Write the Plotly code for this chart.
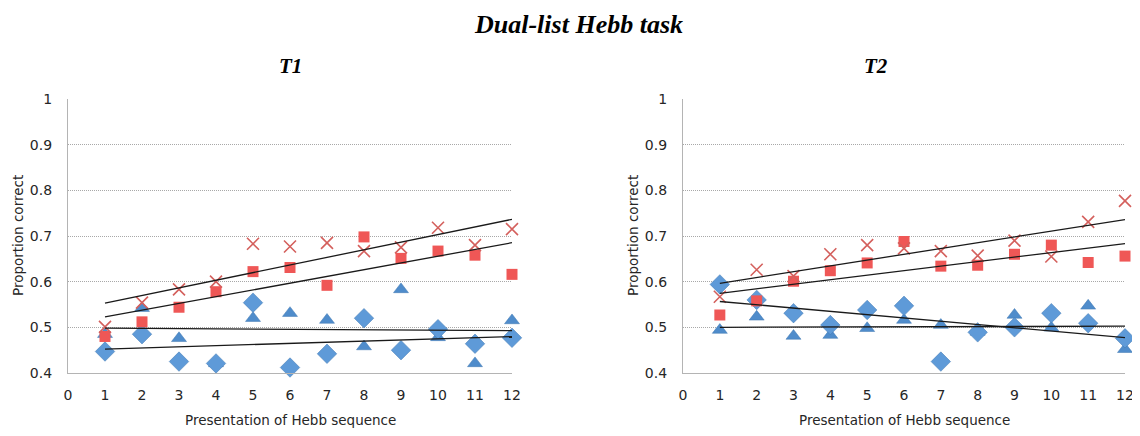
import numpy as np
import plotly.graph_objects as go

presentations = list(range(1, 13))

# T1 (left panel)
t1_cross = [0.501, 0.554, 0.583, 0.600, 0.683, 0.677, 0.685, 0.667, 0.675, 0.718, 0.680, 0.715]
t1_square = [0.480, 0.512, 0.544, 0.578, 0.622, 0.631, 0.592, 0.698, 0.651, 0.667, 0.658, 0.616]
t1_triangle = [0.485, 0.542, 0.476, 0.421, 0.520, 0.531, 0.516, 0.458, 0.583, 0.478, 0.421, 0.515]
t1_diamond = [0.447, 0.485, 0.425, 0.421, 0.554, 0.412, 0.442, 0.520, 0.450, 0.496, 0.464, 0.477]

# T2 (right panel)
t2_cross = [0.567, 0.626, 0.612, 0.660, 0.680, 0.673, 0.667, 0.657, 0.690, 0.655, 0.731, 0.777]
t2_square = [0.527, 0.558, 0.601, 0.624, 0.641, 0.688, 0.634, 0.636, 0.660, 0.680, 0.642, 0.656]
t2_triangle = [0.494, 0.523, 0.481, 0.483, 0.498, 0.516, 0.505, 0.490, 0.527, 0.499, 0.547, 0.452]
t2_diamond = [0.594, 0.560, 0.531, 0.505, 0.538, 0.547, 0.425, 0.489, 0.500, 0.531, 0.509, 0.476]

x_ticks = list(range(0, 13))
y_ticks = [0.4, 0.5, 0.6, 0.7, 0.8, 0.9, 1.0]
y_tick_labels = ["0.4", "0.5", "0.6", "0.7", "0.8", "0.9", "1"]

BLUE_D = "#5E9AD8"
BLUE_T = "#4F8CCB"
RED_S = "#EF5756"
RED_X = "#D4605D"

fig = go.Figure()

def add_panel(xa, ya, cross, square, triangle, diamond):
    common = dict(x=presentations, mode="markers", xaxis=xa, yaxis=ya,
                  showlegend=False, cliponaxis=False, hoverinfo="skip")
    fig.add_trace(go.Scatter(y=triangle, marker=dict(symbol="triangle-up", size=13, color=BLUE_T,
                                                       line=dict(width=0.5, color="#3E76B0")), **common))
    fig.add_trace(go.Scatter(y=diamond, marker=dict(symbol="diamond", size=15, color=BLUE_D,
                                                      line=dict(width=0.5, color="#3E76B0")), **common))
    fig.add_trace(go.Scatter(y=square, marker=dict(symbol="square", size=11, color=RED_S,
                                                     line=dict(width=0)), **common))
    fig.add_trace(go.Scatter(y=cross, marker=dict(symbol="x-thin", size=12, color=RED_X,
                                                    line=dict(width=1.6, color=RED_X)), **common))
    xs = np.array(presentations, dtype=float)
    for series in (cross, square, triangle, diamond):
        k, b = np.polyfit(xs, np.array(series), 1)
        fig.add_trace(go.Scatter(x=[xs[0], xs[-1]], y=[k * xs[0] + b, k * xs[-1] + b], mode="lines",
                                 line=dict(color="#1a1a1a", width=1.3), xaxis=xa, yaxis=ya,
                                 showlegend=False, hoverinfo="skip"))

add_panel("x", "y", t1_cross, t1_square, t1_triangle, t1_diamond)
add_panel("x2", "y2", t2_cross, t2_square, t2_triangle, t2_diamond)

# page has an 8px body margin; figure sized to fill the rest of the window
OFF = 8
W, H = 1140 - OFF, 436 - OFF

def px(x):
    return (x - OFF) / W

def py(y):
    return 1 - (y - OFF) / H

ydom = [py(373), py(99)]
tickfont = dict(family="DejaVu Sans", size=14, color="#262626")

xcommon = dict(range=[0, 12], tickvals=x_ticks, ticktext=[str(v) for v in x_ticks],
               showgrid=False, zeroline=False, showline=True, linecolor="#B4B4B4", linewidth=1.2,
               ticks="outside", ticklen=9, tickcolor="rgba(0,0,0,0)", tickfont=tickfont,
               automargin=False)
ycommon = dict(range=[0.4, 1.0], tickvals=y_ticks, ticktext=y_tick_labels,
               showgrid=True, gridcolor="#A8A8A8", griddash="1px,1px", gridwidth=1,
               zeroline=False, showline=True, linecolor="#B4B4B4", linewidth=1.2,
               ticks="outside", ticklen=12, tickcolor="rgba(0,0,0,0)", tickfont=tickfont, domain=ydom,
               automargin=False)

fig.update_layout(
    width=W, height=H,
    margin=dict(l=0, r=0, t=0, b=0, autoexpand=False),
    paper_bgcolor="white", plot_bgcolor="white",
    xaxis=dict(domain=[px(68), px(512)], anchor="y", **xcommon),
    yaxis=dict(anchor="x", **ycommon),
    xaxis2=dict(domain=[px(683), px(1125)], anchor="y2", **xcommon),
    yaxis2=dict(anchor="x2", **ycommon),
)

serif_title = dict(family="Liberation Serif", color="#000000")
axis_font = dict(family="DejaVu Sans", size=13.5, color="#262626")
annots = [
    dict(text="<b><i>Dual-list Hebb task</i></b>", x=px(578), y=1.0, yanchor="top",
         font=dict(size=26, **serif_title)),
    dict(text="<b><i>T1</i></b>", x=px(290), y=py(66), font=dict(size=21, **serif_title)),
    dict(text="<b><i>T2</i></b>", x=px(876), y=py(66), font=dict(size=21, **serif_title)),
    dict(text="Presentation of Hebb sequence", x=px(290), y=py(420), font=axis_font),
    dict(text="Presentation of Hebb sequence", x=px(904), y=py(420), font=axis_font),
    dict(text="Proportion correct", x=px(18), y=py(236), textangle=-90, font=axis_font),
    dict(text="Proportion correct", x=px(633), y=py(236), textangle=-90, font=axis_font),
]
for a in annots:
    a.setdefault("yanchor", "middle")
    fig.add_annotation(xref="paper", yref="paper", showarrow=False, xanchor="center", **a)

fig.write_html("out.html")
